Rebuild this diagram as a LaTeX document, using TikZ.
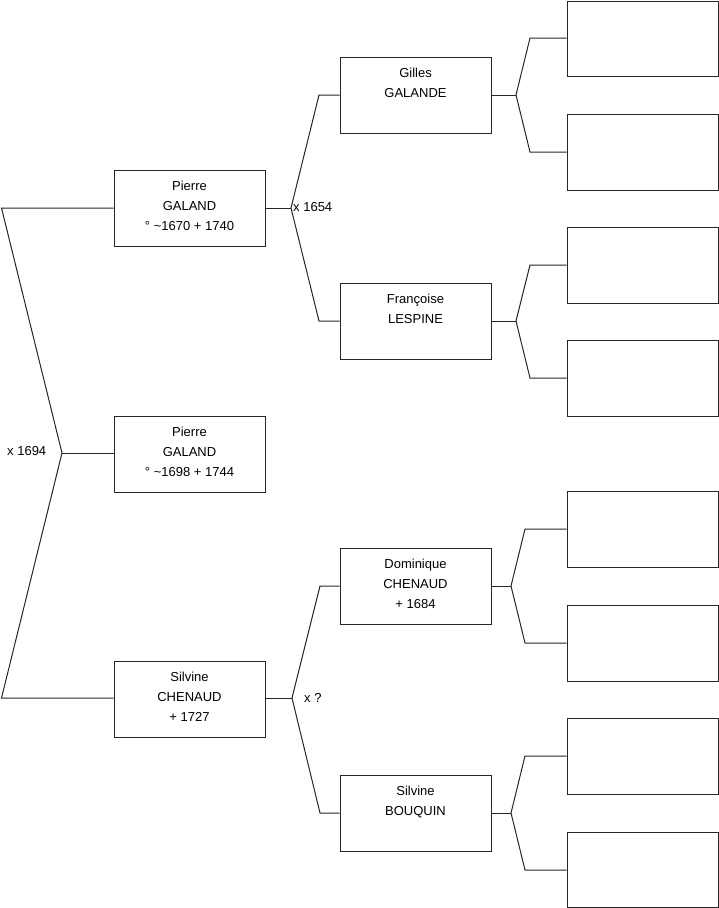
\documentclass[tikz,border=0pt]{standalone}
\usepackage{fontspec}
\setmainfont{Liberation Sans}
\begin{document}
\begin{tikzpicture}[x=1pt,y=-1pt,
  box/.style={draw=black!85, line width=1pt, minimum width=151pt, minimum height=76pt, inner sep=0pt},
  txt/.style={anchor=north, align=center, inner sep=0pt, font=\fontsize{13}{20}\selectfont},
  lbl/.style={anchor=west, inner sep=0pt, font=\fontsize{13}{20}\selectfont},
  link/.style={draw=black!85, line width=1pt}]
\useasboundingbox (0,0) rectangle (719,908);

% level 1
\node[box] (p1) at (189.5,208) {};
\node[box] (p0) at (189.5,454) {};
\node[box] (s1) at (189.5,699) {};
% level 2
\node[box] (g2) at (415.5,95) {};
\node[box] (f2) at (415.5,321) {};
\node[box] (d2) at (415.5,586) {};
\node[box] (b2) at (415.5,813) {};
% level 3
\node[box, minimum height=75pt] (a3) at (642.5,38.5) {};
\node[box] (b3) at (642.5,152) {};
\node[box] (c3) at (642.5,265) {};
\node[box] (d3) at (642.5,378) {};
\node[box] (e3) at (642.5,529) {};
\node[box] (f3) at (642.5,643) {};
\node[box] (g3) at (642.5,756) {};
\node[box, minimum height=75pt] (h3) at (642.5,869.5) {};

% texts
\node[txt] (tp1) at ([yshift=-11.5pt]p1.north) {Pierre\\GALAND\\° \textasciitilde1670 + 1740};
\node[txt] (tp0) at ([yshift=-11.5pt]p0.north) {Pierre\\GALAND\\° \textasciitilde1698 + 1744};
\node[txt] (ts1) at ([yshift=-11.5pt]s1.north) {Silvine\\CHENAUD\\+ 1727};
\node[txt] (tg2) at ([yshift=-11.5pt]g2.north) {Gilles\\GALANDE};
\node[txt] (tf2) at ([yshift=-11.5pt]f2.north) {Françoise\\LESPINE};
\node[txt] (td2) at ([yshift=-11.5pt]d2.north) {Dominique\\CHENAUD\\+ 1684};
\node[txt] (tb2) at ([yshift=-11.5pt]b2.north) {Silvine\\BOUQUIN};

% fork coordinates
\coordinate (v0) at (62,453);
\coordinate (c0a) at (1.5,208);
\coordinate (c0b) at (1.5,698);
\coordinate (v1) at (291,208);
\coordinate (c1a) at (319,95);
\coordinate (c1b) at (319,321);
\coordinate (v2) at (292,698);
\coordinate (c2a) at (320,586);
\coordinate (c2b) at (320,813);
\coordinate (vg) at (516,95);
\coordinate (cga) at (530,38);
\coordinate (cgb) at (530,152);
\coordinate (vf) at (516,321);
\coordinate (cfa) at (530,265);
\coordinate (cfb) at (530,378);
\coordinate (vd) at (511,586);
\coordinate (cda) at (525,529);
\coordinate (cdb) at (525,643);
\coordinate (vb) at (511,813);
\coordinate (cba) at (525,756);
\coordinate (cbb) at (525,870);

% connectors
\draw[link] (p0.west |- v0) -- (v0);
\draw[link] (p1.west) -- (c0a) -- (v0) -- (c0b) -- (s1.west |- c0b);
\draw[link] (p1.east) -- (v1);
\draw[link] (g2.west) -- (c1a) -- (v1) -- (c1b) -- (f2.west);
\draw[link] (s1.east |- v2) -- (v2);
\draw[link] (d2.west) -- (c2a) -- (v2) -- (c2b) -- (b2.west);
\draw[link] (g2.east) -- (vg);
\draw[link] (a3.west |- cga) -- (cga) -- (vg) -- (cgb) -- (b3.west);
\draw[link] (f2.east) -- (vf);
\draw[link] (c3.west) -- (cfa) -- (vf) -- (cfb) -- (d3.west);
\draw[link] (d2.east) -- (vd);
\draw[link] (e3.west) -- (cda) -- (vd) -- (cdb) -- (f3.west);
\draw[link] (b2.east) -- (vb);
\draw[link] (g3.west) -- (cba) -- (vb) -- (cbb) -- (h3.west |- cbb);

% marriage labels
\node[lbl] (m0) at (7,451) {x 1694};
\node[lbl] (m1) at (293,207) {x 1654};
\node[lbl] (m2) at (304,698) {x ?};
\end{tikzpicture}
\end{document}
